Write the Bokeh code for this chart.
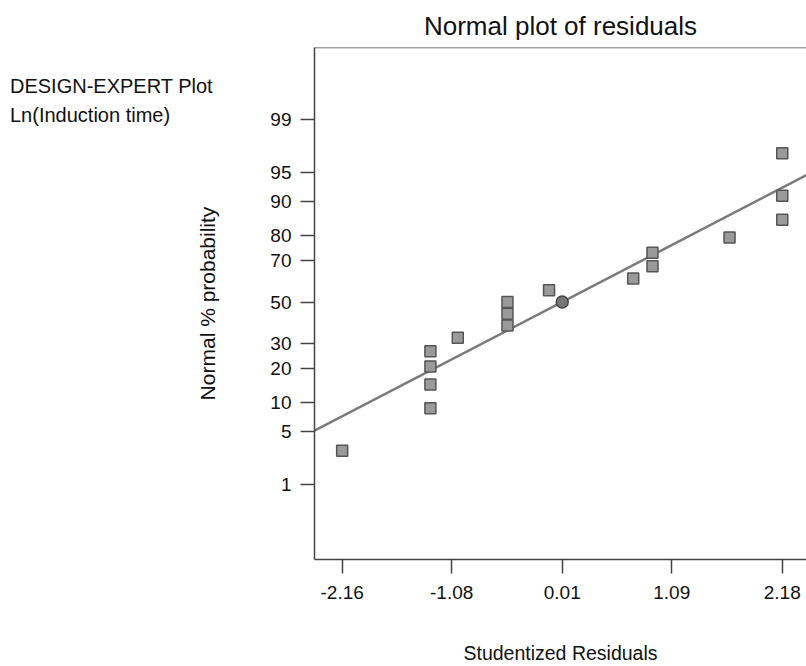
from statistics import NormalDist
from bokeh.plotting import figure
from bokeh.layouts import column
from bokeh.models import FixedTicker, Span, CustomJSTickFormatter, Div
from bokeh.embed import file_html
from bokeh.resources import INLINE

# ---- data ----
residuals = [-2.16, -1.29, -1.29, -1.29, -1.29, -1.02, -0.53, -0.53, -0.53,
             -0.12, 0.71, 0.90, 0.90, 1.66, 2.18, 2.18, 2.18]
pct_prob = [2.9, 8.8, 14.7, 20.6, 26.5, 32.4, 38.2, 44.1, 50.0,
            55.9, 61.8, 67.6, 73.5, 79.4, 85.3, 91.2, 97.1]
center_resid = [0.01]
center_pct = [50.0]
fit_mean = 0.01
fit_sd = 1.49
x_ticks = [-2.16, -1.08, 0.01, 1.09, 2.18]
y_ticks = [1, 5, 10, 20, 30, 50, 70, 80, 90, 95, 99]
corner_text = ["DESIGN-EXPERT Plot", "Ln(Induction time)"]

nd = NormalDist()
def z(p):
    return nd.inv_cdf(p / 100.0)

FONT = "Liberation Sans"

x_start, x_end = -2.433, 2.419
y_start, y_end = -3.28, 3.242

p = figure(width=806, height=666, output_backend="svg", toolbar_location=None,
           x_range=(x_start, x_end), y_range=(y_start, y_end),
           min_border_left=314, min_border_right=0, min_border_top=47,
           min_border_bottom=107, outline_line_color=None,
           title="Normal plot of residuals")
p.background_fill_color = "white"
p.border_fill_color = "white"
p.grid.visible = False

p.title.align = "center"
p.title.text_font = FONT
p.title.text_font_size = "26px"
p.title.text_font_style = "normal"
p.title.text_color = "#111111"
p.title.offset = 0
p.title.standoff = 13

# axes
ztick = [z(v) for v in y_ticks]
p.yaxis.ticker = FixedTicker(ticks=ztick)
p.yaxis.formatter = CustomJSTickFormatter(
    args=dict(zs=ztick, labs=[str(v) for v in y_ticks]), code="""
    let best = 0, bd = 1e9;
    for (let i = 0; i < zs.length; i++) {
        const d = Math.abs(zs[i] - tick);
        if (d < bd) { bd = d; best = i; }
    }
    return labs[best];
""")
p.xaxis.ticker = FixedTicker(ticks=x_ticks)
p.xaxis.formatter = CustomJSTickFormatter(code="return tick.toFixed(2);")

for ax in (p.xaxis[0], p.yaxis[0]):
    ax.axis_line_color = "#444444"
    ax.axis_line_width = 1.5
    ax.major_tick_line_color = "#444444"
    ax.major_tick_line_width = 1.5
    ax.major_tick_out = 14
    ax.major_tick_in = 0
    ax.minor_tick_line_color = None
    ax.major_label_text_font = FONT
    ax.major_label_text_font_size = "19px"
    ax.major_label_text_color = "#111111"
    ax.axis_label_text_font = FONT
    ax.axis_label_text_font_style = "normal"
    ax.axis_label_text_color = "#111111"

p.xaxis.axis_label = "Studentized Residuals"
p.xaxis.axis_label_text_font_size = "19.5px"
p.xaxis.major_label_standoff = 12
p.xaxis.axis_label_standoff = 40
p.yaxis.axis_label = "Normal % probability"
p.yaxis.axis_label_text_font_size = "21px"
p.yaxis.major_label_standoff = 9
p.yaxis.axis_label_standoff = 48

# top border
p.add_layout(Span(location=y_end, dimension="width", line_color="#444444", line_width=1.5))

# fitted line
lx = [x_start, x_end]
ly = [(v - fit_mean) / fit_sd for v in lx]
p.line(lx, ly, line_color="#7a7a7a", line_width=2.5)

# points
p.scatter(residuals, [z(v) for v in pct_prob], marker="square", size=11,
          fill_color="#9a9a9a", line_color="#555555", line_width=1.5)
p.scatter(center_resid, [z(v) for v in center_pct], marker="circle", size=12,
          fill_color="#777777", line_color="#444444", line_width=1.5)

# corner text (floating over the plot's left margin)
div = Div(text="<br>".join(corner_text),
          styles={"position": "absolute", "left": "10px", "top": "72px",
                  "z-index": "10", "font-family": FONT, "font-size": "20px",
                  "line-height": "29px", "color": "#111111",
                  "white-space": "nowrap", "margin": "0", "padding": "0"})

layout = column(p, div)
open("out.html", "w").write(file_html(layout, INLINE))
